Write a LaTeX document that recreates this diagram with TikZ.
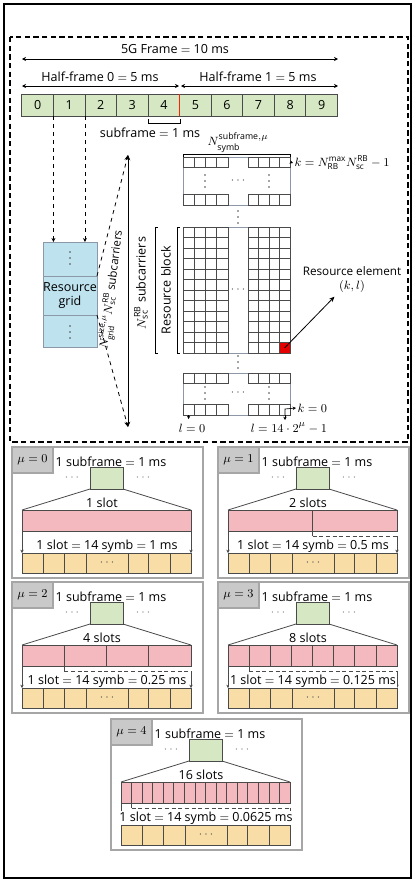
\documentclass[tikz,border=0pt]{standalone}
\usepackage{fontspec}
\setmainfont{Open Sans}
\usetikzlibrary{arrows.meta}
\definecolor{sfgreen}{HTML}{D5E8C3}
\definecolor{rgblue}{HTML}{BFE2EF}
\definecolor{mugray}{HTML}{C9C9C9}
\definecolor{pinkc}{HTML}{F4B9BF}
\definecolor{yellowc}{HTML}{F8DDA6}
\definecolor{gridc}{HTML}{4A4A4A}
\definecolor{blockc}{HTML}{8C98A8}
\tikzset{
  dimarrow/.style={{Stealth[length=3pt,width=3pt]}-{Stealth[length=3pt,width=3pt]}, line width=0.6pt},
  sfcell/.style={draw=gridc, fill=sfgreen, line width=0.6pt, minimum width=23.7pt, minimum height=16.5pt, inner sep=0pt, outer sep=0pt, anchor=north west},
  rgcell/.style={draw=blockc, fill=rgblue, line width=0.6pt, minimum width=40.5pt, inner sep=0pt, outer sep=0pt, anchor=north west, align=center},
  panelline/.style={draw=gray!70, line width=0.8pt},
  greenbox/.style={draw=gridc, fill=sfgreen, line width=0.6pt, minimum width=24.75pt, minimum height=16.5pt, inner sep=0pt, outer sep=0pt},
  pinkbar/.style={draw=gridc, fill=pinkc, line width=0.6pt, minimum width=126.75pt, minimum height=15.75pt, inner sep=0pt, outer sep=0pt},
  yellowbar/.style={draw=gridc, fill=yellowc, line width=0.6pt, minimum width=126.75pt, minimum height=15pt, inner sep=0pt, outer sep=0pt},
  smallarrow/.style={-{Stealth[length=2.5pt,width=2.5pt]}, line width=0.5pt},
  gline/.style={draw=gridc, line width=0.5pt},
  bline/.style={draw=blockc, line width=0.6pt},
}
\newcommand\gdot[2]{\fill[gridc] (#1,#2) circle (0.7pt);}
\newcommand\vdts[2]{\gdot{#1}{#2-6}\gdot{#1}{#2}\gdot{#1}{#2+6}}
\newcommand\cellrow[1]{%
  \foreach \cx in {183,194.25,205.5,216.75}{\draw[gline] (\cx,#1) rectangle ++(11.25,10.5);}
  \foreach \cx in {248,258.5,269,279.5}{\draw[gline] (\cx,#1) rectangle ++(10.5,10.5);}}
\newcommand\mupanel[6]{%
\begin{scope}[shift={(#1,#2)}]
  \draw[panelline] (0,0) rectangle (191,131);
  \draw[panelline, fill=mugray] (0,0) rectangle (41,26);
  \node (mu#3) at (20.5,13) {$\mu=#3$};
  \node (sub#3) at (99,15) {1 subframe $=$ 1 ms};
  \node[greenbox, anchor=north west] (gr#3) at (78,20) {};
  \node[text=gray] (dl#3) at (60,31) {$\cdots$};
  \node[text=gray] (dr#3) at (131,31) {$\cdots$};
  \node[pinkbar, anchor=north west] (pk#3) at (10,63) {};
  \draw[line width=0.6pt, gridc] (gr#3.south west) -- (pk#3.north west);
  \draw[line width=0.6pt, gridc] (gr#3.south east) -- (pk#3.north east);
  \pgfmathsetmacro\slotw{169/#4}
  \ifnum#4>1
    \foreach \j in {2,...,#4}{\draw[gline] ({10+\slotw*(\j-1)},63) -- ++(0,21);}
  \fi
  \node (sl#3) at (90,56) {#4 #6};
  \node[yellowbar, anchor=north west] (ye#3) at (10,106) {};
  \foreach \cx in {31,52,74,116,136,158}{\draw[gline] (\cx,106) -- (\cx,126);}
  \node[text=gray!60!black] (yd#3) at (95,116) {$\cdots$};
  \ifnum#4>1
    \draw[gline] ({10+\slotw},84) -- ({10+\slotw},89);
    \draw[gline, dashed, dash pattern=on 3pt off 2pt] ({10+\slotw},89) -- (179,89);
    \draw[smallarrow, gridc] (179,89) -- (ye#3.north east);
  \else
    \draw[smallarrow, gridc] (pk#3.south east) -- (ye#3.north east);
  \fi
  \draw[smallarrow, gridc] (pk#3.south west) -- (ye#3.north west);
  \node[fill=white, inner sep=0.5pt] (eq#3) at (95,99) {1 slot $=$ 14 symb $=$ #5 ms};
\end{scope}}
\begin{document}
\begin{tikzpicture}[x=0.75pt, y=-0.75pt, font=\fontsize{9.4}{11}\selectfont]
\useasboundingbox (0,0) rectangle (415,882);
\fill[white] (0,0) rectangle (415,882);
\draw[line width=1.1pt] (4,4) rectangle (411,878);
\draw[line width=1.2pt, dash pattern=on 4pt off 2.5pt] (10,37) rectangle (408,442);

% frame dimensions
\node (frame) at (175,49) {5G Frame $=$ 10 ms};
\coordinate (fL) at (22,59); \coordinate (fR) at (338,59);
\draw[dimarrow] (fL) -- (fR);
\node (h0) at (100,77) {Half-frame 0 $=$ 5 ms};
\node (h1) at (258,77) {Half-frame 1 $=$ 5 ms};
\coordinate (h0L) at (22,86); \coordinate (h0R) at (179,86);
\coordinate (h1L) at (181,86); \coordinate (h1R) at (338,86);
\draw[dimarrow] (h0L) -- (h0R);
\draw[dimarrow] (h1L) -- (h1R);

\foreach \i in {0,...,9}{\node[sfcell] (sf\i) at ({21.8+31.56*\i},94) {\i};}
\draw[line width=0.9pt, red!75!orange] (sf4.north east) -- (sf4.south east);
\draw[line width=0.6pt] (148.5,119) -- (148.5,123) -- (180,123) -- (180,119);
\node (sfl) at (150,133) {subframe $=$ 1 ms};

% resource grid
\node[rgcell, minimum height=25.5pt] (rgA) at (43,242) {};
\node[rgcell, minimum height=29.25pt] (rgB) at (43,276) {Resource\\[-1pt]grid};
\node[rgcell, minimum height=24pt] (rgC) at (43,315) {};
\vdts{70}{258}
\vdts{70}{332}
\draw[dashed, line width=0.6pt, -{Stealth[length=3pt,width=3pt]}] (sf0.south east) -- (sf0.south east |- rgA.north);
\draw[dashed, line width=0.6pt, -{Stealth[length=3pt,width=3pt]}] (sf1.south east) -- (sf1.south east |- rgA.north);

\coordinate (aT) at (128,155); \coordinate (aB) at (128,427);
\draw[line width=0.7pt, {Stealth[length=4pt,width=3.5pt]}-{Stealth[length=4pt,width=3.5pt]}] (aT) -- (aB);
\draw[dashed, line width=0.6pt, -{Stealth[length=4pt,width=3.5pt]}] (rgB.north east) -- (aT);
\draw[dashed, line width=0.6pt, -{Stealth[length=4pt,width=3.5pt]}] (rgB.south east) -- (aB);
\node[rotate=83, font=\fontsize{8.6}{10}\selectfont] (nlab) at (112,290) {$N^{\mathrm{size},\mu}_{\mathrm{grid}}N^{\mathrm{RB}}_{\mathrm{sc}}$ subcarriers};
\node[rotate=90] (sclab) at (141,283) {$N^{\mathrm{RB}}_{\mathrm{sc}}$ subcarriers};
\node[rotate=90] (rblab) at (166,290) {Resource block};
\draw[line width=0.7pt] (158,227) -- (155,227) -- (155,353) -- (158,353);
\draw[line width=0.7pt] (180,227) -- (177,227) -- (177,353) -- (180,353);

% upper block
\draw[bline] (183,157) rectangle (290,205);
\cellrow{157}\cellrow{194.5}
\vdts{205}{181}\vdts{269}{181}
\node[text=gray!60!black] (ud) at (238,181) {$\cdots$};
\vdts{238}{217}
% resource block
\draw[bline] (183,227) rectangle (290,353);
\foreach \r in {0,...,11}{\cellrow{227+10.5*\r}}
\fill[red!90!black] (279.5,342.5) rectangle (290,353);
\node[text=gray!60!black] (md) at (238,290) {$\cdots$};
\vdts{238}{362}
% lower block
\draw[bline] (183,373) rectangle (290,415);
\cellrow{373}\cellrow{404.5}
\vdts{205}{393}\vdts{269}{393}
\node[text=gray!60!black] (ld) at (238,393) {$\cdots$};

\node (nsym) at (238,143) {$N^{\mathrm{subframe},\mu}_{\mathrm{symb}}$};
\draw[line width=0.5pt] (183,157) -- (183,154) -- (290,154) -- (290,157);
\node[anchor=west, inner sep=1pt, font=\fontsize{8.8}{10}\selectfont] (ktop) at (293,163) {$k=N^{\mathrm{max}}_{\mathrm{RB}}N^{\mathrm{RB}}_{\mathrm{sc}}-1$};
\draw[smallarrow] (290,162) -- (ktop.west);
\node[anchor=west, inner sep=1pt] (k0) at (296,408) {$k=0$};
\draw[smallarrow] (285,415) -- (285,409) -- (k0.west);
\node (l0) at (192,428) {$l=0$};
\draw[smallarrow] (188.6,415) -- (l0.north -| 188.6,0);
\node (lmax) at (289,428) {$l=14\cdot2^{\mu}-1$};
\draw[smallarrow] (285,415) -- (285,420);
\node[font=\fontsize{8.8}{10}\selectfont] (re) at (352,271) {Resource element};
\node (kl) at (352,286) {$(k,l)$};
\coordinate (reC) at (284.75,347.75);
\draw[line width=0.6pt, -{Stealth[length=4pt,width=3.5pt]}] (reC) -- (kl.south west);

% numerology panels
\mupanel{12}{447}{0}{1}{1}{slot}
\mupanel{218}{447}{1}{2}{0.5}{slots}
\mupanel{12}{582}{2}{4}{0.25}{slots}
\mupanel{218}{582}{3}{8}{0.125}{slots}
\mupanel{111}{719}{4}{16}{0.0625}{slots}
\end{tikzpicture}
\end{document}
